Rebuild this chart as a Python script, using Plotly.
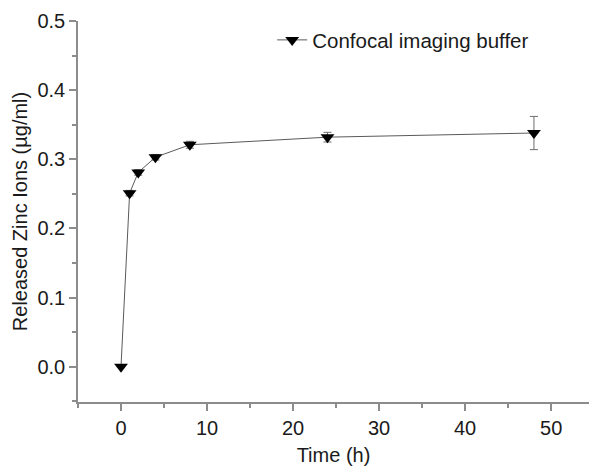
import plotly.graph_objects as go

# Zinc release over time in confocal imaging buffer
time_h = [0, 1, 2, 4, 8, 24, 48]
released_zinc = [0.0, 0.251, 0.281, 0.303, 0.321, 0.332, 0.338]
std_err = [0.0, 0.004, 0.004, 0.004, 0.005, 0.007, 0.024]

x_ticks = [0, 10, 20, 30, 40, 50]
y_ticks = [0.0, 0.1, 0.2, 0.3, 0.4, 0.5]
y_tick_text = ["0.0", "0.1", "0.2", "0.3", "0.4", "0.5"]

FONT = "Liberation Sans, Arial, sans-serif"
AXIS_GREY = "#8c8c8c"

fig = go.Figure()
fig.add_trace(go.Scatter(
    x=time_h,
    y=released_zinc,
    mode="lines+markers",
    name="Confocal imaging buffer",
    line=dict(color="#5a5a5a", width=1),
    marker=dict(symbol="triangle-down", size=12, color="black"),
    error_y=dict(type="data", array=std_err, visible=True,
                 color="#6e6e6e", thickness=1, width=4),
))

fig.update_layout(
    width=589, height=472,
    margin=dict(l=78, r=0, t=21, b=70),
    paper_bgcolor="white",
    plot_bgcolor="white",
    font=dict(family=FONT, size=20, color="#1a1a1a"),
    showlegend=True,
    legend=dict(x=0.38, y=0.95, xanchor="left", yanchor="middle",
                bgcolor="rgba(0,0,0,0)", font=dict(size=20.5),
                itemwidth=30),
)

fig.update_xaxes(
    range=[-5, 54.4],
    tickvals=x_ticks,
    showline=True, linecolor=AXIS_GREY, linewidth=1.5,
    ticks="outside", ticklen=7, tickcolor=AXIS_GREY, tickwidth=1.5,
    minor=dict(dtick=5, ticks="outside", ticklen=4, tickcolor=AXIS_GREY, tickwidth=1.5),
    showgrid=False, zeroline=False,
    tickfont=dict(size=20),
    title=dict(text="Time (h)", font=dict(size=20), standoff=10),
)
fig.update_yaxes(
    range=[-0.051, 0.5],
    tickvals=y_ticks, ticktext=y_tick_text,
    showline=True, linecolor=AXIS_GREY, linewidth=1.5,
    ticks="outside", ticklen=7, tickcolor=AXIS_GREY, tickwidth=1.5,
    minor=dict(dtick=0.05, ticks="outside", ticklen=4, tickcolor=AXIS_GREY, tickwidth=1.5),
    showgrid=False, zeroline=False,
    tickfont=dict(size=20),
    title=dict(text="Released Zinc Ions (µg/ml)", font=dict(size=20), standoff=4),
)

fig.write_html("out.html")
